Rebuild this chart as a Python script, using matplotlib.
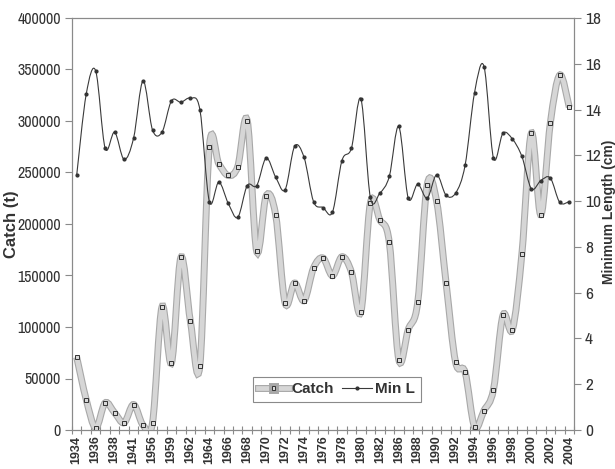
import matplotlib
matplotlib.use("Agg")
import matplotlib.pyplot as plt
import matplotlib.font_manager as fm
import matplotlib.patheffects as pe
from matplotlib.path import Path
from matplotlib.patches import PathPatch
from matplotlib.lines import Line2D
from matplotlib.ticker import FixedLocator, NullFormatter
import numpy as np

# ---------------- data ----------------
years = ["1934", "1935", "1936", "1937", "1938", "1939", "1941", "1955", "1956", "1958",
         "1959", "1961", "1962", "1963", "1964", "1965", "1966", "1967", "1968", "1969",
         "1970", "1971", "1972", "1973", "1974", "1975", "1976", "1977", "1978", "1979",
         "1980", "1981", "1982", "1984", "1986", "1987", "1988", "1989", "1990", "1991",
         "1992", "1993", "1994", "1995", "1996", "1997", "1998", "1999", "2000", "2001",
         "2002", "2003", "2004"]

catch = [70600, 29600, 2100, 26400, 16700, 7000, 24700, 4700, 7000, 119500,
         65200, 167600, 105500, 62500, 275200, 258400, 247100, 255800, 300400, 173400,
         227400, 209000, 123300, 142700, 125600, 157300, 167000, 149800, 168200, 153400,
         114600, 220300, 204100, 182100, 68400, 97500, 123900, 238100, 221900, 142400,
         65800, 56100, 3100, 18900, 39300, 111300, 97500, 171200, 288200, 209000,
         297900, 344700, 313400]

min_l = [11.15, 14.67, 15.69, 12.31, 13.01, 11.82, 12.75, 15.25, 13.11, 13.01,
         14.38, 14.32, 14.50, 14.00, 9.98, 10.83, 9.90, 9.29, 10.68, 10.68,
         11.88, 11.05, 10.50, 12.39, 11.91, 9.98, 9.72, 9.52, 11.77, 12.31,
         14.47, 10.16, 10.35, 11.08, 13.26, 10.13, 10.74, 10.13, 11.15, 10.25,
         10.35, 11.56, 14.74, 15.88, 11.88, 12.97, 12.71, 11.95, 10.54, 10.90,
         11.01, 9.94, 9.98]

left_ticks = [0, 50000, 100000, 150000, 200000, 250000, 300000, 350000, 400000]
right_ticks = [0, 2, 4, 6, 8, 10, 12, 14, 16, 18]

# ---------------- fonts ----------------
names = {f.name for f in fm.fontManager.ttflist}
main_font = "Liberation Sans" if "Liberation Sans" in names else "DejaVu Sans"
narrow_name = None
for f in fm.fontManager.ttflist:
    if ("Narrow" in f.name or "Condensed" in f.name) and f.style == "normal":
        narrow_name = f.name
        break
if narrow_name:
    tick_fp_left = fm.FontProperties(family=narrow_name, size=11.5)
    tick_fp_right = fm.FontProperties(family=narrow_name, size=12.5)
else:
    tick_fp_left = fm.FontProperties(family=main_font, size=8.5)
    tick_fp_right = fm.FontProperties(family=main_font, size=10.5)
plt.rcParams["font.family"] = [main_font, "DejaVu Sans"]


def smooth_path(xs, ys):
    """Excel-like smoothed line: cubic Bezier segments through data points."""
    xs = np.asarray(xs, float)
    ys = np.asarray(ys, float)
    n = len(xs)
    verts = [(xs[0], ys[0])]
    codes = [Path.MOVETO]
    for i in range(n - 1):
        p0 = np.array([xs[max(i - 1, 0)], ys[max(i - 1, 0)]])
        p1 = np.array([xs[i], ys[i]])
        p2 = np.array([xs[i + 1], ys[i + 1]])
        p3 = np.array([xs[min(i + 2, n - 1)], ys[min(i + 2, n - 1)]])
        c1 = p1 + (p2 - p0) / 6.0
        c2 = p2 - (p3 - p1) / 6.0
        verts += [tuple(c1), tuple(c2), tuple(p2)]
        codes += [Path.CURVE4] * 3
    return Path(verts, codes)


x = np.arange(len(years))

fig = plt.figure(figsize=(6.15, 4.69), dpi=100)
ax = fig.add_axes([72 / 615, 39 / 469, (574 - 72) / 615, (430 - 18) / 469])
ax2 = ax.twinx()

spine_col = "#8a8a8a"
text_col = "#333333"

# Catch series (left axis)
catch_fx = [pe.Stroke(linewidth=5.0, foreground="#a8a8a8"), pe.Normal()]
ax.add_patch(PathPatch(smooth_path(x, catch), fill=False, edgecolor="#d6d6d6",
                       linewidth=3.4, path_effects=catch_fx, zorder=3))
ax.plot(x, catch, linestyle="none", marker="s", markersize=2.4,
        markerfacecolor="#d8d8d8", markeredgecolor="#333333",
        markeredgewidth=0.7, zorder=4)

# Min L series (right axis)
ax2.add_patch(PathPatch(smooth_path(x, min_l), fill=False, edgecolor="#3a3a3a",
                        linewidth=0.8, zorder=3))
ax2.plot(x, min_l, linestyle="none", marker="o", markersize=2.0,
         color="#333333", zorder=4)

ax.set_xlim(-0.5, len(years) - 0.5)
ax.set_ylim(0, 400000)
ax2.set_ylim(0, 18)

ax.set_yticks(left_ticks)
ax.set_yticklabels([str(v) for v in left_ticks])
ax2.set_yticks(right_ticks)
ax2.set_yticklabels([str(v) for v in right_ticks])

# x axis: labels at every second category, tick marks at category boundaries
ax.set_xticks(x[::2])
ax.set_xticklabels(years[::2], rotation=90, fontsize=9, fontweight="bold",
                   color=text_col)
ax.tick_params(axis="x", which="major", length=0, pad=4)
ax.xaxis.set_minor_locator(FixedLocator(np.arange(-0.5, len(years), 1.0)))
ax.xaxis.set_minor_formatter(NullFormatter())
ax.tick_params(axis="x", which="minor", length=6, direction="inout",
               color=spine_col, width=0.8)

for lab in ax.get_yticklabels():
    lab.set_fontproperties(tick_fp_left)
    lab.set_color(text_col)
for lab in ax2.get_yticklabels():
    lab.set_fontproperties(tick_fp_right)
    lab.set_color(text_col)

ax.tick_params(axis="y", length=5, color=spine_col, width=0.8, pad=3)
ax2.tick_params(axis="y", length=5, color=spine_col, width=0.8, pad=3)

for a in (ax, ax2):
    for s in a.spines.values():
        s.set_color(spine_col)
        s.set_linewidth(0.8)

ax.set_ylabel("Catch (t)", fontsize=12, fontweight="bold", color=text_col)
ax.yaxis.set_label_coords((19 - 72) / 502, 0.5)
ax2.set_ylabel("Minimum Length (cm)", fontsize=10, fontweight="bold",
               color=text_col)
ax2.yaxis.set_label_coords((602 - 72) / 502, 0.53)

# legend
h_catch = Line2D([], [], color="#d6d6d6", linewidth=3.4, marker="s",
                 markersize=2.4, markerfacecolor="#d8d8d8",
                 markeredgecolor="#333333", markeredgewidth=0.7,
                 path_effects=catch_fx)
h_minl = Line2D([], [], color="#3a3a3a", linewidth=0.8, marker="o",
                markersize=2.0, markerfacecolor="#333333",
                markeredgecolor="#333333")
leg = ax2.legend([h_catch, h_minl], ["Catch", "Min L"], loc="upper left",
                 bbox_to_anchor=(252.7 / 615, 1 - 377 / 469),
                 bbox_transform=fig.transFigure, ncol=2, frameon=True,
                 fancybox=False, framealpha=1, edgecolor="#8a8a8a",
                 prop=dict(weight="bold", size=11), handlelength=2.0,
                 handletextpad=0.2, columnspacing=0.5, borderpad=0.35,
                 borderaxespad=0)
leg.get_frame().set_linewidth(0.8)
for t in leg.get_texts():
    t.set_color(text_col)

fig.savefig("out.png", dpi=100)
